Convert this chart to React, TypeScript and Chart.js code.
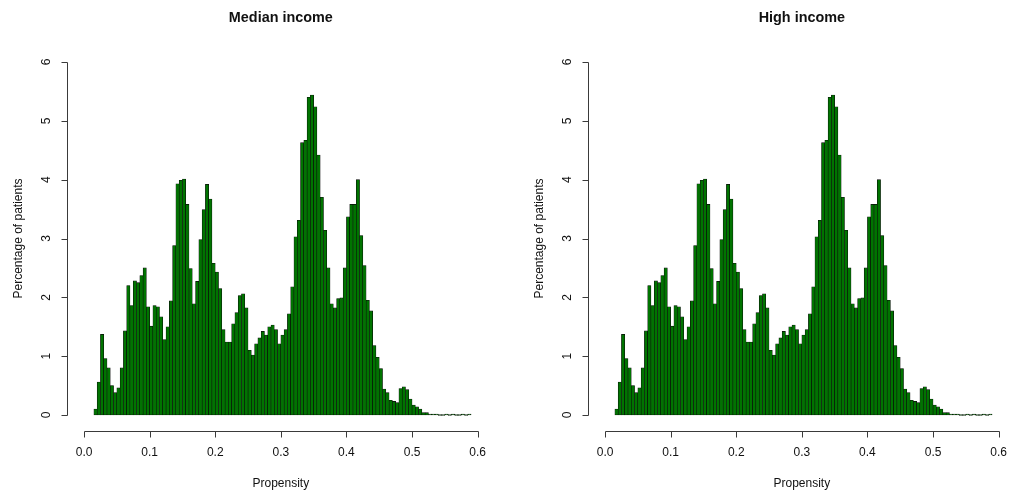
import React, { useEffect, useRef } from "react";
import { Chart, registerables } from "chart.js";

Chart.register(...registerables);

// Histogram bins: first bin starts at 0.015, each bin is 0.005 wide
const BIN_START = 0.015;
const BIN_WIDTH = 0.005;

// Percentage of patients per propensity bin
const medianIncome = [
  0.1, 0.56, 1.37, 0.96, 0.8, 0.5, 0.38, 0.46, 0.8, 1.43,
  2.2, 1.86, 2.28, 2.25, 2.37, 2.5, 1.84, 1.51, 1.86, 1.84,
  1.67, 1.28, 1.5, 1.94, 2.88, 3.93, 3.99, 4.01, 3.58, 2.49,
  1.89, 2.27, 2.98, 3.49, 3.92, 3.67, 2.58, 2.43, 2.15, 1.45,
  1.24, 1.24, 1.55, 1.74, 2.03, 2.06, 1.82, 1.1, 1.02, 1.21,
  1.31, 1.42, 1.36, 1.5, 1.53, 1.45, 1.21, 1.36, 1.45, 1.72,
  2.18, 3.03, 3.31, 4.63, 4.67, 5.4, 5.44, 5.24, 4.42, 3.7,
  3.14, 2.5, 1.89, 1.82, 1.98, 1.99, 2.5, 3.37, 3.58, 3.58,
  4.0, 3.05, 2.54, 1.95, 1.77, 1.18, 0.98, 0.79, 0.44, 0.38,
  0.25, 0.23, 0.21, 0.45, 0.48, 0.43, 0.27, 0.17, 0.14, 0.1,
  0.04, 0.04, 0.01, 0.01, 0.01, 0, 0, 0.01, 0, 0.01,
  0, 0, 0.01, 0, 0.01,
];

const highIncome = [
  0.1, 0.56, 1.37, 0.96, 0.8, 0.5, 0.38, 0.46, 0.8, 1.43,
  2.2, 1.86, 2.28, 2.25, 2.37, 2.5, 1.84, 1.51, 1.86, 1.84,
  1.67, 1.28, 1.5, 1.94, 2.88, 3.93, 3.99, 4.01, 3.58, 2.49,
  1.89, 2.27, 2.98, 3.49, 3.92, 3.67, 2.58, 2.43, 2.15, 1.45,
  1.24, 1.24, 1.55, 1.74, 2.03, 2.06, 1.82, 1.1, 1.02, 1.21,
  1.31, 1.42, 1.36, 1.5, 1.53, 1.45, 1.21, 1.36, 1.45, 1.72,
  2.18, 3.03, 3.31, 4.63, 4.67, 5.4, 5.44, 5.24, 4.42, 3.7,
  3.14, 2.5, 1.89, 1.82, 1.98, 1.99, 2.5, 3.37, 3.58, 3.58,
  4.0, 3.05, 2.54, 1.95, 1.77, 1.18, 0.98, 0.79, 0.44, 0.38,
  0.25, 0.23, 0.21, 0.45, 0.48, 0.43, 0.27, 0.17, 0.14, 0.1,
  0.04, 0.04, 0.01, 0.01, 0.01, 0, 0, 0.01, 0, 0.01,
  0, 0, 0.01, 0, 0.01,
];

const xTicks = [0, 0.1, 0.2, 0.3, 0.4, 0.5, 0.6];
const xTickLabels = ["0.0", "0.1", "0.2", "0.3", "0.4", "0.5", "0.6"];
const yTicks = [0, 1, 2, 3, 4, 5, 6];
const yTickLabels = ["0", "1", "2", "3", "4", "5", "6"];

const X_LABEL = "Propensity";
const Y_LABEL = "Percentage of patients";

const FONT = '"Liberation Sans", Arial, Helvetica, sans-serif';

const W = 1009;
const H = 492;
const PX_PER_UNIT = 656; // horizontal pixels per propensity unit
const X_MIN = -0.024;
const Y_MIN = -0.24;
const Y_MAX = 6.24;

const rAxesPlugin = {
  id: "rAxes",
  afterDraw(chart: any) {
    const opts = chart.options.plugins.rAxes;
    const { ctx, chartArea } = chart;
    const x = chart.scales.x;
    const y = chart.scales.y;
    ctx.save();
    ctx.strokeStyle = "#3a3a3a";
    ctx.fillStyle = "#111";
    ctx.lineWidth = 1;

    // Y axis (R style: line spans first to last tick)
    const ax = Math.round(chartArea.left - 1) + 0.5;
    const yTop = y.getPixelForValue(yTicks[yTicks.length - 1]);
    const yBot = y.getPixelForValue(yTicks[0]);
    ctx.beginPath();
    ctx.moveTo(ax, Math.round(yBot) + 0.5);
    ctx.lineTo(ax, Math.round(yTop) + 0.5);
    yTicks.forEach((t) => {
      const py = Math.round(y.getPixelForValue(t)) + 0.5;
      ctx.moveTo(ax, py);
      ctx.lineTo(ax - 6, py);
    });
    ctx.stroke();

    ctx.font = `12px ${FONT}`;
    ctx.textAlign = "center";
    ctx.textBaseline = "middle";
    yTicks.forEach((t, i) => {
      const py = y.getPixelForValue(t);
      ctx.save();
      ctx.translate(ax - 21, py);
      ctx.rotate(-Math.PI / 2);
      ctx.fillText(yTickLabels[i], 0, 0);
      ctx.restore();
    });

    // Y axis title
    ctx.save();
    ctx.translate(ax - 49, (chartArea.top + chartArea.bottom) / 2);
    ctx.rotate(-Math.PI / 2);
    ctx.fillText(Y_LABEL, 0, 0);
    ctx.restore();

    // X axis
    const ay = Math.round(chartArea.bottom + 2) + 0.5;
    const xl = x.getPixelForValue(xTicks[0]);
    const xr = x.getPixelForValue(xTicks[xTicks.length - 1]);
    ctx.beginPath();
    ctx.moveTo(Math.round(xl) + 0.5, ay);
    ctx.lineTo(Math.round(xr) + 0.5, ay);
    xTicks.forEach((t) => {
      const px = Math.round(x.getPixelForValue(t)) + 0.5;
      ctx.moveTo(px, ay);
      ctx.lineTo(px, ay + 6);
    });
    ctx.stroke();

    xTicks.forEach((t, i) => {
      ctx.fillText(xTickLabels[i], x.getPixelForValue(t), ay + 21);
    });
    const cx = x.getPixelForValue((xTicks[0] + xTicks[xTicks.length - 1]) / 2);
    ctx.fillText(X_LABEL, cx, ay + 52);

    // Main title
    ctx.font = `bold 14.4px ${FONT}`;
    ctx.fillText(opts.title, cx, 18.5);
    ctx.restore();
  },
};

function Panel({ title, values, areaLeft, areaRight }: { title: string; values: number[]; areaLeft: number; areaRight: number }) {
  const ref = useRef<HTMLCanvasElement | null>(null);
  useEffect(() => {
    if (!ref.current) return;
    const data = values.map((v, i) => ({ x: BIN_START + BIN_WIDTH * (i + 0.5), y: v }));
    const yTopPx = 47.9;
    const yBotPx = 429.1;
    const chart = new Chart(ref.current, {
      type: "bar",
      data: {
        datasets: [
          {
            data: data as any,
            backgroundColor: "#007400",
            borderColor: "#0a0a0a",
            borderWidth: 0.6,
            borderSkipped: false,
            barPercentage: 1,
            categoryPercentage: 1,
            minBarLength: 1,
          } as any,
        ],
      },
      options: {
        responsive: false,
        animation: false,
        devicePixelRatio: 1,
        layout: {
          padding: { left: areaLeft, right: W - areaRight, top: yTopPx, bottom: H - yBotPx },
        },
        scales: {
          x: {
            type: "linear",
            offset: false,
            min: X_MIN,
            max: X_MIN + (areaRight - areaLeft) / PX_PER_UNIT,
            display: false,
          },
          y: { type: "linear", min: Y_MIN, max: Y_MAX, display: false },
        },
        plugins: {
          legend: { display: false },
          title: { display: false },
          tooltip: { enabled: false },
          rAxes: { title },
        } as any,
      },
      plugins: [rAxesPlugin],
    });
    return () => chart.destroy();
  }, [title, values, areaLeft, areaRight]);
  return (
    <canvas
      ref={ref}
      width={W}
      height={H}
      style={{ position: "absolute", left: 0, top: 0, width: W, height: H }}
    />
  );
}

export default function App() {
  return (
    <div style={{ position: "absolute", left: 0, top: 0, width: W, height: H, background: "#fff", overflow: "hidden" }}>
      <Panel title="Median income" values={medianIncome} areaLeft={68.3} areaRight={493.3} />
      <Panel title="High income" values={highIncome} areaLeft={589.3} areaRight={1005} />
    </div>
  );
}
